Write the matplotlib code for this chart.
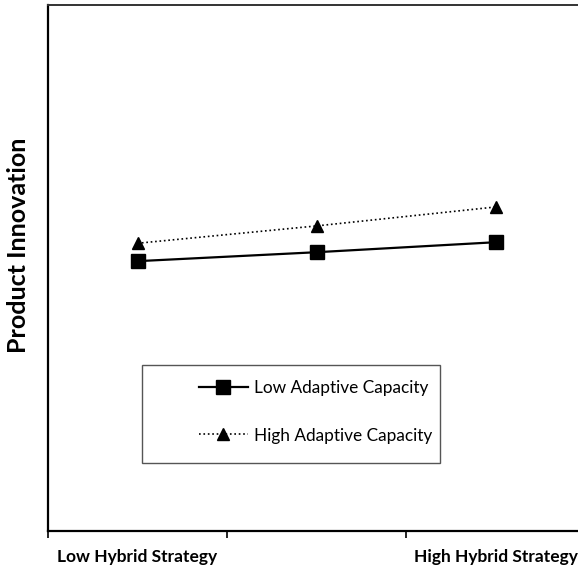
import matplotlib.pyplot as plt
from matplotlib.patches import Rectangle

strategy_pos = [0.5, 1.5, 2.5]
x_labels = ['Low Hybrid Strategy', 'High Hybrid Strategy']
x_label_pos = [0.5, 2.5]
low_capacity = [5.13, 5.30, 5.49]
high_capacity = [5.47, 5.80, 6.16]

plt.rcParams['font.family'] = ['Lato', 'DejaVu Sans']

fig = plt.figure(figsize=(5.78, 5.70), dpi=100)
ax = fig.add_axes([48 / 578, 39 / 570, 537 / 578, 526 / 570])

ax.plot(strategy_pos, low_capacity, color='black', lw=1.6, marker='s', ms=9.5,
        label='Low Adaptive Capacity')
ax.plot(strategy_pos, high_capacity, color='black', lw=1.2, ls=':', marker='^', ms=9,
        label='High Adaptive Capacity')

ax.set_xlim(0, 3)
ax.set_ylim(0, 10)
ax.set_yticks([])
ax.set_xticks([0, 1, 2, 3])
ax.set_xticklabels([])
ax.tick_params(axis='x', which='major', direction='out', length=5, width=1.2)
ax.set_xticks(x_label_pos, minor=True)
ax.set_xticklabels(x_labels, minor=True, fontsize=12.5, fontweight='bold')
ax.tick_params(axis='x', which='minor', length=0, pad=13)

for side in ['left', 'bottom']:
    ax.spines[side].set_linewidth(1.6)
ax.spines['top'].set_linewidth(1.4)
ax.spines['top'].set_color('#333333')
ax.spines['right'].set_visible(False)

ax.set_ylabel('Product Innovation', fontsize=18, fontweight='bold')
ax.yaxis.set_label_coords(-0.034, 0.544)

# legend box
ax.add_patch(Rectangle((94 / 537, 68 / 526), 298 / 537, 98 / 526, transform=ax.transAxes,
                       fill=False, edgecolor='#555555', lw=1.0, zorder=3))
ax.legend(loc='upper left', bbox_to_anchor=(135 / 537, 166 / 526), frameon=False,
          fontsize=12.4, handlelength=2.85, handletextpad=0.35, labelspacing=1.8)

fig.savefig('out.png', dpi=100)
